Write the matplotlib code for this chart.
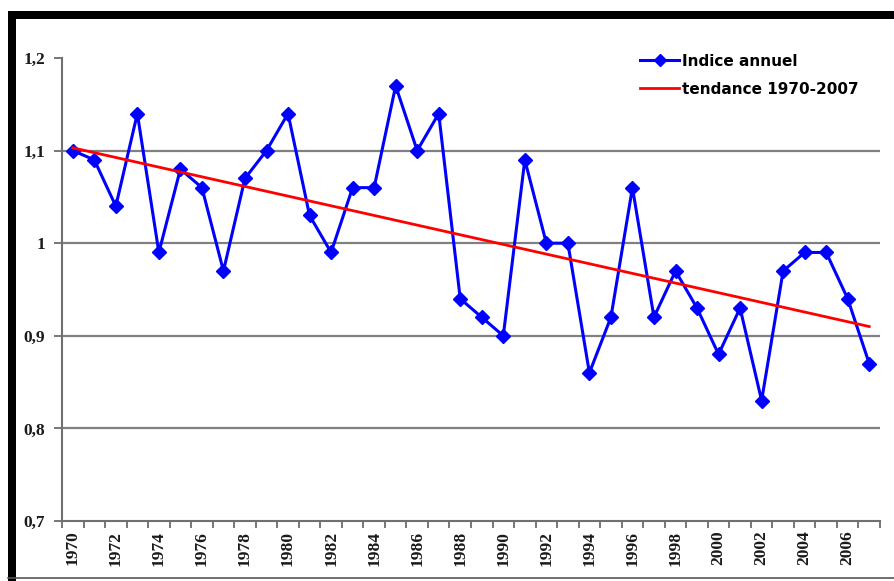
import numpy as np
import matplotlib.pyplot as plt
from matplotlib.patches import Rectangle
from matplotlib.lines import Line2D

# annual index values
years = list(range(1970, 2008))
indice = [1.10, 1.09, 1.04, 1.14, 0.99, 1.08, 1.06, 0.97, 1.07, 1.10,
          1.14, 1.03, 0.99, 1.06, 1.06, 1.17, 1.10, 1.14, 0.94, 0.92,
          0.90, 1.09, 1.00, 1.00, 0.86, 0.92, 1.06, 0.92, 0.97, 0.93,
          0.88, 0.93, 0.83, 0.97, 0.99, 0.99, 0.94, 0.87]

# trend line end points (1970 and 2007)
trend_years = [1970, 2007]
trend_vals = [1.103, 0.910]

y_ticks = [0.7, 0.8, 0.9, 1.0, 1.1, 1.2]
y_labels = ['0,7', '0,8', '0,9', '1', '1,1', '1,2']

W, H = 894, 581
fig = plt.figure(figsize=(W / 100, H / 100), dpi=100)

# black frame like the original screenshot
fig.patches.append(Rectangle((8 / W, 1 - 19 / H), 886 / W, 8 / H, transform=fig.transFigure,
                             facecolor='black', edgecolor='none'))
fig.patches.append(Rectangle((8 / W, 0), 8 / W, 1 - 11 / H, transform=fig.transFigure,
                             facecolor='black', edgecolor='none'))
fig.lines.append(Line2D([8 / W, 1], [3 / H, 3 / H], transform=fig.transFigure,
                        color='#555555', lw=1.2))

ax = fig.add_axes([62 / W, 1 - 521 / H, (880 - 62) / W, (521 - 58) / H])

x = np.arange(len(years))
tx = [years.index(y) for y in trend_years]

ax.plot(x, indice, color='#0000ff', lw=2.2, marker='D', markersize=7.5,
        label='Indice annuel', zorder=3)
ax.plot(tx, trend_vals, color='#ff0000', lw=2, label='tendance 1970-2007', zorder=4)

ax.set_xlim(-0.5, len(years) - 0.5)
ax.set_ylim(0.7, 1.2)

ax.set_yticks(y_ticks)
ax.set_yticklabels(y_labels)
for v in y_ticks[1:-1]:
    ax.axhline(v, color='#808080', lw=1.6, zorder=1)

ax.set_xticks(x[::2])
ax.set_xticklabels([str(y) for y in years[::2]], rotation=90)
ax.set_xticks(np.arange(-0.5, len(years), 1), minor=True)
ax.tick_params(axis='x', which='major', length=0, pad=7)
ax.tick_params(axis='x', which='minor', length=5, color='#606060', width=1.2)
ax.tick_params(axis='y', length=6, color='#606060', width=1.2, pad=6)

for lab in ax.get_xticklabels() + ax.get_yticklabels():
    lab.set_fontfamily('Liberation Serif')
    lab.set_fontweight('bold')
    lab.set_fontsize(12.5)
    lab.set_color('#1a1a1a')

for s in ['top', 'right']:
    ax.spines[s].set_visible(False)
for s in ['left', 'bottom']:
    ax.spines[s].set_color('#707070')
    ax.spines[s].set_linewidth(1.5)

ax.legend(loc='upper left', bbox_to_anchor=(629 / W, 1 - 43 / H), bbox_transform=fig.transFigure,
          frameon=False, handlelength=2.6, handletextpad=0.2, labelspacing=0.85,
          markerscale=0.8, borderpad=0.2,
          prop={'family': 'DejaVu Sans', 'weight': 'bold', 'size': 11})

fig.savefig('out.png', dpi=100)
